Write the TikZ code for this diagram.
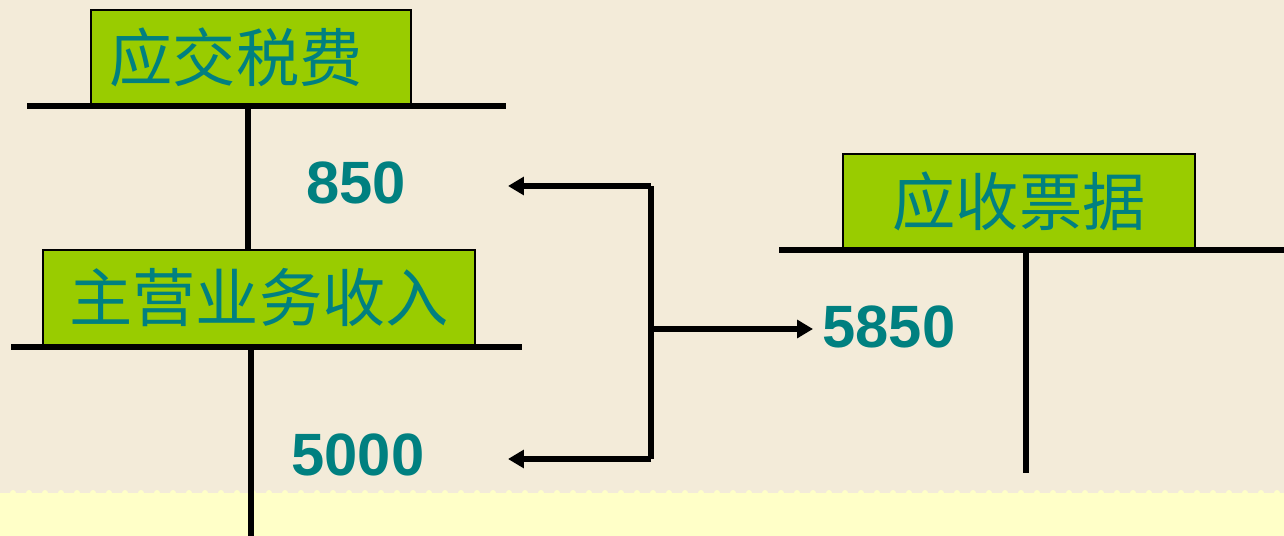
\documentclass[tikz,border=0pt]{standalone}
\usepackage{fontspec}
\setmainfont{Liberation Sans}
\newfontfamily\cjk{Noto Sans CJK SC}
\usepackage{tikz}
\usetikzlibrary{arrows.meta,backgrounds}
\definecolor{acctgreen}{HTML}{99CC00}
\definecolor{acctteal}{HTML}{008080}
\definecolor{paper}{HTML}{F3EBD9}
\definecolor{band}{HTML}{FFFFC8}

\begin{document}
\begin{tikzpicture}[x=0.02cm,y=-0.02cm,
  account/.style={draw=black, line width=1pt, fill=acctgreen, text=acctteal,
    font=\cjk\fontsize{36}{36}\selectfont, inner sep=0pt},
  amount/.style={text=acctteal, font=\bfseries\fontsize{34}{34}\selectfont, inner sep=0pt},
  rule/.style={line width=3.6pt},
  flow/.style={line width=3pt, -{Triangle[length=9pt,width=10pt]}}]
\fill[paper] (0,0) rectangle (1284,536);
\fill[band] (0,493) rectangle (1284,536);
\foreach \i in {0,...,79}
  \fill[band] (13+16*\i,493) circle (3);
\useasboundingbox (0,0) rectangle (1284,536);

\node[account, minimum width=6.4cm, minimum height=1.88cm] (tax) at (251,57) {应交税费\kern0.6cm};
\node[account, minimum width=8.64cm, minimum height=1.9cm] (sales) at (259,297.5) {主营业务收入};
\node[account, minimum width=7.04cm, minimum height=1.88cm] (notes) at (1019,201) {应收票据};

\coordinate (taxL) at (27,106);
\coordinate (taxR) at (506,106);
\coordinate (taxV) at (248,106);
\coordinate (salesL) at (11,347);
\coordinate (salesR) at (522,347);
\coordinate (salesV) at (251,347);
\coordinate (salesE) at (251,536);
\coordinate (notesL) at (779,250);
\coordinate (notesR) at (1284,250);
\coordinate (notesV) at (1026,250);
\coordinate (notesE) at (1026,473);

\draw[rule] (taxL) -- (taxR);
\draw[rule] (taxV) -- (taxV |- sales.north);
\draw[rule] (salesL) -- (salesR);
\draw[rule] (salesV) -- (salesE);
\draw[rule] (notesL) -- (notesR);
\draw[rule] (notesV) -- (notesE);

\node[amount] (tax850) at (356,183) {850};
\node[amount] (sales5000) at (358,455) {5000};
\node[amount] (notes5850) at (889,327) {5850};

\coordinate (forkT) at (651,186);
\coordinate (forkB) at (651,459);
\coordinate (forkM) at (651,329);
\coordinate (tipT) at (508,186);
\coordinate (tipB) at (508,459);
\coordinate (tipM) at (813,329);

\draw[line width=3pt] (forkT) -- (forkB);
\draw[flow] (forkT) -- (tipT);
\draw[flow] (forkB) -- (tipB);
\draw[flow] (forkM) -- (tipM);
\end{tikzpicture}
\end{document}
